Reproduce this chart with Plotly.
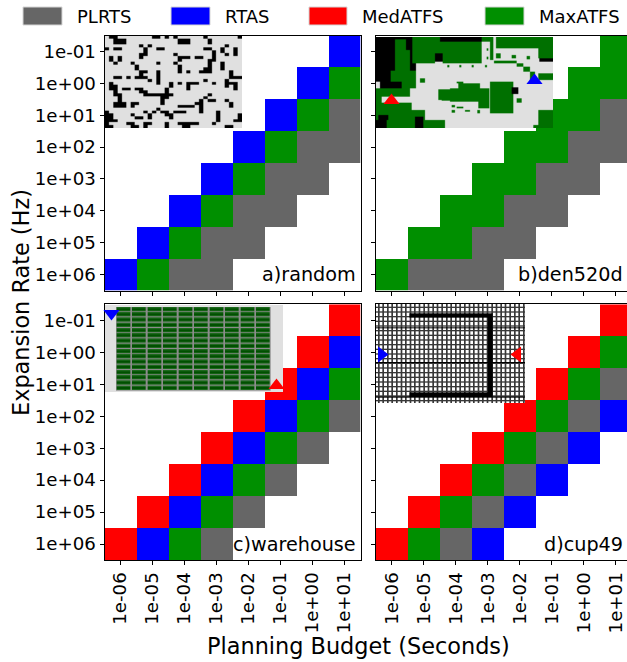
import numpy as np
import plotly.graph_objects as go

W, H = 627, 662
BUDGETS = ["1e-06", "1e-05", "1e-04", "1e-03", "1e-02", "1e-01", "1e+00", "1e+01"]
RATES = ["1e-01", "1e+00", "1e+01", "1e+02", "1e+03", "1e+04", "1e+05", "1e+06"]
NAMES = ["PLRTS", "RTAS", "MedATFS", "MaxATFS"]
LETTERS = ".PRMA"
C_GRAY, C_BLUE, C_RED, C_GREEN = "#666666", "#0000ff", "#ff0000", "#008f00"

# Best algorithm per cell: P=PLRTS R=RTAS M=MedATFS A=MaxATFS, rows top to bottom as RATES
GRID_A = [".......R", "......RA", ".....RAP", "....RAPP", "...RAPP.", "..RAPP..", ".RAPP...", "RAPP...."]
GRID_B = [".......A", "......AA", ".....AAP", "....AAPP", "...AAPP.", "..AAPP..", ".AAPP...", "APPP...."]
GRID_C = [".......M", "......MR", ".....MRA", "....MRAP", "...MRAP.", "..MRAP..", ".MRAP...", "MRAP...."]
GRID_D = [".......M", "......MA", ".....MAP", "....MAPR", "...MAPR.", "..MAPR..", ".MAPR...", "MAPR...."]
LABELS = ["a)random", "b)den520d", "c)warehouse", "d)cup49"]

# Blocked cells of the random map, row -> columns
RANDOM_BLACK = {
    0: [1, 2, 11, 12, 14, 16, 23, 31], 1: [2, 3, 4, 17, 18, 19, 24], 2: [2, 3, 4, 17, 18, 19, 24],
    3: [8, 10, 28], 4: [0, 2, 3, 9, 12, 13, 23, 24, 27, 30], 5: [9, 25, 27, 30],
    6: [8, 9, 16, 25, 28, 30], 7: [1, 3, 8, 17, 18, 19, 21, 22, 25], 8: [1, 3, 17, 24, 25],
    9: [2, 6, 12, 16, 24, 27], 10: [7, 17, 24, 27], 11: [7, 17, 23, 24, 27],
    12: [8, 9, 12, 17, 19, 22, 23, 24, 29], 13: [8, 12, 29], 14: [2, 3, 5, 7, 8, 9, 12, 29, 30, 31],
    15: [10, 12, 23, 28], 16: [1, 12, 15, 17, 19, 20, 21, 25, 28, 29, 30], 17: [1, 2, 15, 19, 28, 30],
    18: [1, 2, 4, 5, 7, 8, 14, 19, 30], 19: [2, 8, 9, 14], 20: [2, 3, 9, 10, 11, 12, 13, 14, 15, 24],
    21: [3, 13, 14, 23], 22: [3, 13, 22, 24, 25, 28], 23: [2, 3, 4, 6, 7, 13, 21, 22, 29],
    24: [2, 3, 4, 6, 17, 18, 19, 20, 22, 29], 25: [12, 22], 26: [0, 9, 11, 13, 14, 16, 17, 18, 22, 26],
    27: [0, 1, 6, 10, 14, 15, 26, 31], 28: [0, 1, 7, 8, 10, 15, 26, 31], 29: [0, 1, 2, 26, 30, 31],
    30: [0, 5, 6, 9, 10, 14, 17, 18, 19, 20, 21, 25], 31: [0, 1, 6, 7, 9, 14, 18, 19, 28, 29],
}
K, G, E = (0, 0, 0), (0, 112, 0), (224, 224, 224)
# Terrain of the den520d map: x0, y0, x1, y1, colour
DEN_RECTS = [
    (18, 21, 127, 155, K), (75, 28, 108, 125, G), (108, 60, 120, 125, G), (62, 122, 138, 175, G),
    (120, 80, 138, 122, K), (127, 21, 218, 70, G), (127, 70, 195, 100, G), (195, 70, 218, 95, K),
    (218, 35, 335, 100, G), (210, 21, 335, 35, K), (335, 21, 370, 35, G), (360, 35, 370, 90, G),
    (378, 21, 549, 55, G), (505, 55, 549, 85, G), (508, 85, 549, 95, K), (378, 70, 392, 85, G),
    (425, 75, 438, 85, G), (470, 78, 480, 88, G), (372, 92, 440, 100, G), (440, 100, 460, 110, G),
    (460, 110, 480, 125, G), (480, 125, 495, 150, G), (505, 130, 549, 150, G),
    (30, 155, 95, 175, K), (18, 175, 120, 200, G), (18, 200, 35, 218, G), (18, 218, 125, 295, G),
    (25, 255, 55, 270, K), (18, 270, 50, 295, K), (125, 240, 165, 295, G), (165, 270, 225, 295, G),
    (135, 260, 160, 295, K), (205, 178, 240, 210, G), (265, 160, 330, 175, G), (240, 175, 358, 215, G),
    (215, 205, 265, 212, G), (325, 205, 358, 235, G), (360, 155, 430, 250, G),
    (425, 172, 445, 192, K), (260, 155, 280, 160, G), (150, 145, 165, 158, G), (245, 225, 255, 232, G),
    (260, 230, 280, 235, G), (285, 240, 300, 245, G), (322, 240, 330, 250, G), (440, 205, 455, 218, G),
    (245, 240, 255, 248, G), (232, 105, 238, 112, G), (268, 105, 274, 112, G), (305, 105, 311, 112, G),
    (345, 105, 351, 112, G), (350, 55, 355, 62, G), (350, 80, 355, 88, G), (505, 240, 549, 295, G),
    (490, 285, 505, 295, G), (530, 190, 549, 240, E),
]
# Inset frame on the page: left, top, right, bottom
INSETS = [(105, 36, 242, 128), (376, 37, 553, 128), (105, 305, 283, 392), (376, 304, 525, 403)]
# Start (blue) and goal (red) in inset pixels, with marker symbols
STARTS = [None, (158, 43, "triangle-up"), (6, 8, "triangle-down"), (5, 50, "triangle-right")]
GOALS = [None, (15, 63, "triangle-up"), (171, 80, "triangle-up"), (141, 50, "triangle-left")]


def blur(a, k):
    p = k // 2
    for axis in (0, 1):
        pad = [(p, p) if ax == axis else (0, 0) for ax in range(3)]
        b = np.pad(a, pad, mode="edge")
        c = np.cumsum(b, axis=axis)
        zero = np.zeros_like(np.take(c, [0], axis=axis))
        c = np.concatenate([zero, c], axis=axis)
        n = a.shape[axis]
        a = (np.take(c, range(k, n + k), axis=axis) - np.take(c, range(0, n), axis=axis)) / k
    return a


def down(a, k=3):
    a = blur(a.astype(float), k)
    h, w = a.shape[0] // 3, a.shape[1] // 3
    a = a[:h * 3, :w * 3]
    return a.reshape(h, 3, w, 3, 3).mean(axis=(1, 3)).round().astype(np.uint8)


def canvas(i, col=E):
    x0, y0, x1, y1 = INSETS[i]
    a = np.zeros(((y1 - y0) * 3, (x1 - x0) * 3, 3))
    a[:] = col
    return a


def img_random():
    a = canvas(0)
    h, w = a.shape[:2]
    for r, cols in RANDOM_BLACK.items():
        for c in cols:
            a[int(r * h / 32):int((r + 1) * h / 32), int(c * w / 32):int((c + 1) * w / 32)] = K
    return down(a, 3)


def img_den():
    a = canvas(1)
    for x0, y0, x1, y1, col in DEN_RECTS:
        a[max(y0 - 21, 0):max(y1 - 21, 0), max(x0 - 18, 0):max(x1 - 18, 0)] = col
    return down(a, 3)


def img_warehouse():
    a = canvas(2)
    ox, oy = 15, 15
    a[18 - oy + 3:272 - oy, 48 - ox:512 - ox] = (140, 140, 140)
    for c in range(10):
        sx = 50 + c * 46.5
        for r in range(16):
            sy = 21 + r * 15.75
            y0, y1, x0, x1 = int(sy - oy), int(sy - oy + 13), int(sx - ox), int(sx - ox + 41)
            a[y0:y1, x0:x1] = (30, 105, 30)
            a[y0 + 4:y0 + 10, x0:x1] = (0, 80, 0)
    return down(a, 1)


def img_cup():
    a = canvas(3, (255, 255, 255))
    ox, oy = 18, 12
    a[:, :] = (255, 255, 255)
    for x in np.arange(24, 465, 13.6):
        a[:, int(x - ox):int(x - ox) + 5] = (55, 55, 55)
    for y in np.arange(20, 310, 14.0):
        a[int(y - oy):int(y - oy) + 4, :] = (55, 55, 55)
    for y in (82, 186, 290):
        a[y - oy:y - oy + 3, :] = K
    a[40 - oy:53 - oy, 118 - ox:368 - ox] = K
    a[40 - oy:290 - oy, 353 - ox:368 - ox] = K
    a[277 - oy:290 - oy, 118 - ox:368 - ox] = K
    return down(a, 1)


IMAGES = [img_random(), img_den(), img_warehouse(), img_cup()]

GRIDS = [GRID_A, GRID_B, GRID_C, GRID_D]
PANELS = [(104.5, 35.5, 360.5, 290.5), (375.7, 35.5, 627, 290.5), (104.5, 304.3, 360.5, 560), (375.7, 304.3, 627, 560)]
COLW = 32.0
scale = [[0, "#ffffff"], [.2, "#ffffff"], [.2, C_GRAY], [.4, C_GRAY], [.4, C_BLUE], [.6, C_BLUE],
         [.6, C_RED], [.8, C_RED], [.8, C_GREEN], [1, C_GREEN]]
FS = 18.2
FONT = "DejaVu Sans"
fig = go.Figure()
layout = {}
annotations = []
shapes = []

for i, (grid, p) in enumerate(zip(GRIDS, PANELS)):
    n = i + 1
    s = "" if n == 1 else str(n)
    z = [[LETTERS.index(ch) for ch in row] for row in grid]
    fig.add_trace(go.Heatmap(z=z, x=list(range(8)), y=list(range(8)), colorscale=scale, zmin=0, zmax=5,
                             showscale=False, hoverinfo="skip", xaxis="x" + s, yaxis="y" + s))
    left, top, right, bottom = p
    right_panel = i % 2 == 1
    bottom_panel = i >= 2
    layout["xaxis" + s] = dict(domain=[left / W, right / W], anchor="y" + s,
                               range=[-0.5, -0.5 + (right - left) / COLW], tickmode="array", tickvals=list(range(8)),
                               ticktext=BUDGETS, showticklabels=bottom_panel, tickangle=-90, ticks="outside", ticklen=4,
                               tickcolor="black", tickwidth=1, showline=True, linecolor="black", linewidth=1,
                               mirror=True, showgrid=False, zeroline=False,
                               tickfont=dict(family=FONT, size=FS, color="black"))
    layout["yaxis" + s] = dict(domain=[1 - bottom / H, 1 - top / H], anchor="x" + s, range=[7.5, -0.5],
                               tickmode="array", tickvals=list(range(8)), ticktext=RATES,
                               showticklabels=not right_panel, ticks="outside", ticklen=4, tickcolor="black",
                               tickwidth=1, showline=True, linecolor="black", linewidth=1, mirror=not right_panel,
                               showgrid=False, zeroline=False, tickfont=dict(family=FONT, size=FS, color="black"))
    annotations.append(dict(text=LABELS[i], xref="paper", yref="paper", x=(right if not right_panel else 628) / W - 3 / W,
                            y=1 - (bottom - 16) / H, xanchor="right", yanchor="middle", showarrow=False,
                            font=dict(family=FONT, size=19.2, color="black")))

for i, im in enumerate(IMAGES):
    n = i + 5
    x0, y0, x1, y1 = INSETS[i]
    fig.add_trace(go.Image(z=im.tolist(), colormodel="rgb", xaxis=f"x{n}", yaxis=f"y{n}", hoverinfo="skip"))
    layout[f"xaxis{n}"] = dict(domain=[x0 / W, x1 / W], anchor=f"y{n}", range=[-0.5, x1 - x0 - 0.5], visible=False)
    layout[f"yaxis{n}"] = dict(domain=[1 - y1 / H, 1 - y0 / H], anchor=f"x{n}", range=[y1 - y0 - 0.5, -0.5], visible=False)
    for pt, col in ((STARTS[i], C_BLUE), (GOALS[i], C_RED)):
        if pt:
            fig.add_trace(go.Scatter(x=[pt[0]], y=[pt[1]], mode="markers", xaxis=f"x{n}", yaxis=f"y{n}",
                                     marker=dict(symbol=pt[2], size=14, color=col, line=dict(width=0)),
                                     showlegend=False, hoverinfo="skip", cliponaxis=False))

LEG_SWATCH = [(23, 62), (171, 210), (309, 347), (485, 524)]
LEG_TEXT = [75, 223, 360, 537]
for (a, b), tx, name, col in zip(LEG_SWATCH, LEG_TEXT, NAMES, [C_GRAY, C_BLUE, C_RED, C_GREEN]):
    shapes.append(dict(type="rect", xref="paper", yref="paper", x0=a / W, x1=b / W, y0=1 - 25 / H, y1=1 - 7 / H,
                       fillcolor=col, line=dict(color="#d5d5d5", width=1)))
    annotations.append(dict(text=name, xref="paper", yref="paper", x=tx / W, y=1 - 16 / H, xanchor="left",
                            yanchor="middle", showarrow=False, font=dict(family=FONT, size=18, color="black")))

annotations.append(dict(text="Planning Budget (Seconds)", xref="paper", yref="paper", x=359 / W, y=1 - 646 / H,
                        xanchor="center", yanchor="middle", showarrow=False, font=dict(family=FONT, size=22.4, color="black")))
annotations.append(dict(text="Expansion Rate (Hz)", xref="paper", yref="paper", x=21 / W, y=1 - 303 / H, textangle=-90,
                        xanchor="center", yanchor="middle", showarrow=False, font=dict(family=FONT, size=22.4, color="black")))

fig.update_layout(width=W, height=H, margin=dict(l=0, r=0, t=0, b=0), paper_bgcolor="white", plot_bgcolor="white",
                  showlegend=False, annotations=annotations, shapes=shapes, **layout)
fig.write_html("out.html", config={"displayModeBar": False},
               post_script="document.body.style.margin='0';document.documentElement.style.overflow='hidden';")
